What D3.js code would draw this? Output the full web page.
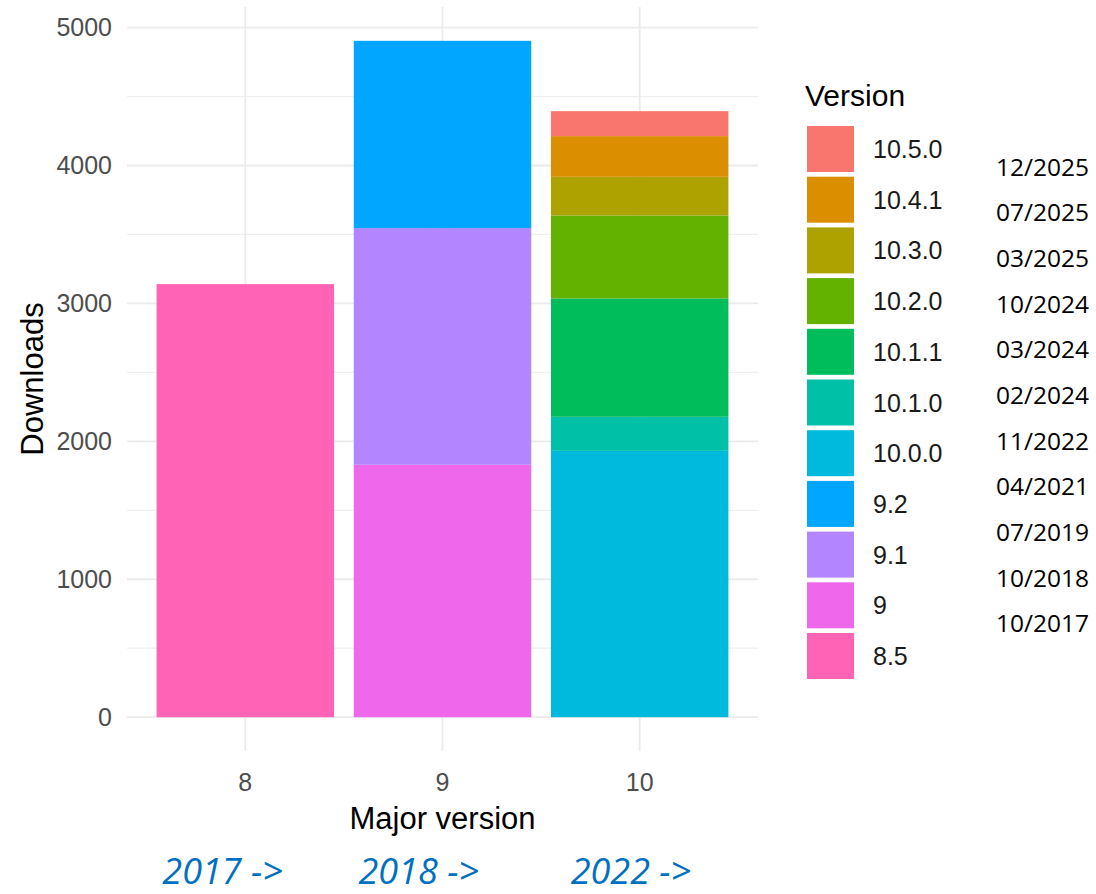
<!DOCTYPE html>
<html>
<head>
<meta charset="utf-8">
<script src="https://cdn.jsdelivr.net/npm/d3@7"></script>
<style>
  body { margin: 0; background: #fff; }
  svg { display: block; }
</style>
</head>
<body>
<div id="chart"></div>
<script>
// data
var majors = ["8", "9", "10"];
var versions = ["10.5.0", "10.4.1", "10.3.0", "10.2.0", "10.1.1", "10.1.0", "10.0.0", "9.2", "9.1", "9", "8.5"];
var versionMajor = ["10", "10", "10", "10", "10", "10", "10", "9", "9", "9", "8"];
var downloads = [181, 295, 280, 602, 858, 247, 1931, 1358, 1716, 1830, 3140];
var releaseDates = ["12/2025", "07/2025", "03/2025", "10/2024", "03/2024", "02/2024", "11/2022", "04/2021", "07/2019", "10/2018", "10/2017"];
var eraLabels = ["2017 ->", "2018 ->", "2022 ->"];
var yTicks = [0, 1000, 2000, 3000, 4000, 5000];

// ggplot default hue palette, 11 levels
var palette = ["#F8766D", "#DB8E00", "#AEA200", "#64B200", "#00BD5C", "#00C1A7",
               "#00BADE", "#00A6FF", "#B385FF", "#EF67EB", "#FF63B6"];

function drawChart() {
  var width = 1096, height = 894;
  var panel = {left: 127, right: 758, top: 7, bottom: 751};

  var svg = d3.select("#chart").append("svg")
      .attr("width", width)
      .attr("height", height);

  // one row per major version, one column per version
  var rows = majors.map(function(m) {
    var r = {major: m};
    versions.forEach(function(v, i) { r[v] = versionMajor[i] === m ? downloads[i] : 0; });
    return r;
  });

  // first level ends up on top, like ggplot's position_stack
  var stack = d3.stack().keys(versions.slice().reverse());
  var series = stack(rows);

  var totals = rows.map(function(r) { return d3.sum(versions, function(v) { return r[v]; }); });
  var ymax = d3.max(totals);

  var x = d3.scaleBand()
      .domain(majors)
      .range([panel.left, panel.right])
      .paddingInner(0.1)
      .paddingOuter(0.15);

  var y = d3.scaleLinear()
      .domain([-0.05 * ymax, 1.05 * ymax])
      .range([panel.bottom, panel.top]);

  var color = d3.scaleOrdinal().domain(versions).range(palette);

  // grid
  var grid = svg.append("g").attr("class", "grid");
  grid.selectAll("line.minor")
    .data(d3.range(500, 5000, 1000))
    .enter().append("line")
      .attr("class", "minor")
      .attr("x1", panel.left).attr("x2", panel.right)
      .attr("y1", function(d) { return y(d); })
      .attr("y2", function(d) { return y(d); })
      .style("stroke", "#EFEFEF")
      .style("stroke-width", 1.2);

  grid.selectAll("line.major")
    .data(yTicks)
    .enter().append("line")
      .attr("class", "major")
      .attr("x1", panel.left).attr("x2", panel.right)
      .attr("y1", function(d) { return y(d); })
      .attr("y2", function(d) { return y(d); })
      .style("stroke", "#EBEBEB")
      .style("stroke-width", 1.8);

  grid.selectAll("line.vmajor")
    .data(majors)
    .enter().append("line")
      .attr("class", "vmajor")
      .attr("x1", function(d) { return x(d) + x.bandwidth() / 2; })
      .attr("x2", function(d) { return x(d) + x.bandwidth() / 2; })
      .attr("y1", panel.top).attr("y2", panel.bottom)
      .style("stroke", "#EBEBEB")
      .style("stroke-width", 1.8);

  // bars
  svg.append("g")
      .attr("class", "bars")
    .selectAll("g")
    .data(series)
    .enter().append("g")
      .style("fill", function(d) { return color(d.key); })
    .selectAll("rect")
    .data(function(d) { return d.filter(function(p) { return p[1] > p[0]; }); })
    .enter().append("rect")
      .attr("x", function(d) { return x(d.data.major); })
      .attr("width", x.bandwidth())
      .attr("y", function(d) { return y(d[1]); })
      .attr("height", function(d) { return y(d[0]) - y(d[1]); });

  // axes (text only, theme_minimal)
  var yAxis = d3.axisLeft(y).tickValues(yTicks).tickFormat(d3.format("d")).tickSize(0).tickPadding(15);
  var gy = svg.append("g")
      .attr("transform", "translate(" + panel.left + ",0)")
      .call(yAxis);
  gy.select(".domain").remove();
  gy.selectAll("text")
      .style("font-family", "'Liberation Sans', Arial, sans-serif")
      .style("font-size", "25px")
      .style("fill", "#4D4D4D");

  var xAxis = d3.axisBottom(x).tickSize(0).tickPadding(22);
  var gx = svg.append("g")
      .attr("transform", "translate(0," + panel.bottom + ")")
      .call(xAxis);
  gx.select(".domain").remove();
  gx.selectAll("text")
      .style("font-family", "'Liberation Sans', Arial, sans-serif")
      .style("font-size", "25px")
      .style("fill", "#4D4D4D");

  svg.append("text")
      .attr("x", (panel.left + panel.right) / 2)
      .attr("y", 829)
      .attr("text-anchor", "middle")
      .style("font-family", "'Liberation Sans', Arial, sans-serif")
      .style("font-size", "31px")
      .style("fill", "#000")
      .text("Major version");

  svg.append("text")
      .attr("transform", "translate(43," + (panel.top + panel.bottom) / 2 + ") rotate(-90)")
      .attr("text-anchor", "middle")
      .style("font-family", "'Liberation Sans', Arial, sans-serif")
      .style("font-size", "31px")
      .style("fill", "#000")
      .text("Downloads");

  // legend
  var legend = svg.append("g").attr("transform", "translate(807,126)");
  var keyStep = 50.7;

  legend.append("text")
      .attr("x", -2)
      .attr("y", -20)
      .style("font-family", "'Liberation Sans', Arial, sans-serif")
      .style("font-size", "30px")
      .style("fill", "#000")
      .text("Version");

  var item = legend.selectAll("g.item")
    .data(versions)
    .enter().append("g")
      .attr("class", "item")
      .attr("transform", function(d, i) { return "translate(0," + i * keyStep + ")"; });

  item.append("rect")
      .attr("width", 47)
      .attr("height", 46)
      .style("fill", function(d) { return color(d); });

  item.append("text")
      .attr("x", 66)
      .attr("y", 23)
      .attr("dy", "0.36em")
      .style("font-family", "'Liberation Sans', Arial, sans-serif")
      .style("font-size", "25px")
      .style("fill", "#1A1A1A")
      .text(function(d) { return d; });

  // release dates added beside the legend
  var dateY = d3.scalePoint()
      .domain(releaseDates)
      .range([167, 623.5]);

  svg.append("g")
      .selectAll("text")
    .data(releaseDates)
    .enter().append("text")
      .attr("x", 996)
      .attr("y", function(d) { return dateY(d); })
      .attr("dy", "0.36em")
      .style("font-family", "'Open Sans', sans-serif")
      .style("font-size", "24.5px")
      .style("fill", "#000")
      .text(function(d) { return d; });

  // era annotations under the x axis
  var eraShift = [-83, -84, -69];
  svg.append("g")
      .selectAll("text")
    .data(eraLabels)
    .enter().append("text")
      .attr("x", function(d, i) { return x(majors[i]) + x.bandwidth() / 2 + eraShift[i]; })
      .attr("y", 884)
      .style("font-family", "'Open Sans', sans-serif")
      .style("font-style", "italic")
      .style("font-size", "36px")
      .style("fill", "#0070C0")
      .text(function(d) { return d; });
}

drawChart();
</script>
</body>
</html>
